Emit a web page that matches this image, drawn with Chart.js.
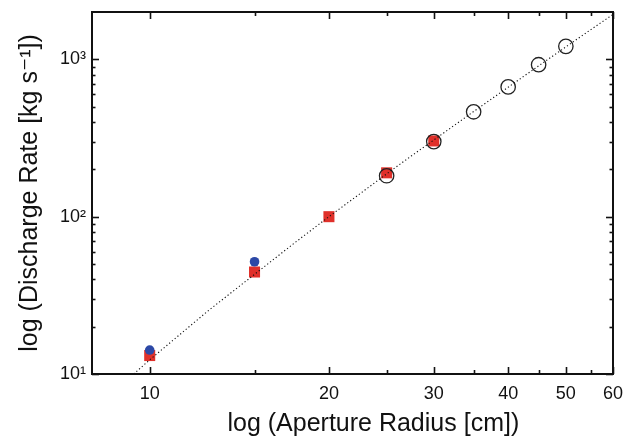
<!DOCTYPE html>
<html><head><meta charset="utf-8">
<script src="https://cdn.jsdelivr.net/npm/chart.js@4/dist/chart.umd.min.js"></script>
<style>html,body{margin:0;padding:0;background:#fff}#wrap{width:627px;height:440px}</style>
</head><body><div id="wrap"><canvas id="c" width="627" height="440"></canvas></div>
<script>
// Data
const radiusRed = [10, 15, 20, 25, 30];
const rateRed = [13.1, 44.5, 100, 190, 303];
const radiusBlue = [10, 15];
const rateBlue = [14.2, 51.7];
const radiusOpen = [25, 30, 35, 40, 45, 50];
const rateOpen = [182, 300, 464, 668, 925, 1210];
const radiusFit = [9.4, 10, 12.5, 15, 17.5, 20, 22.5, 25, 27.5, 30, 35, 40, 45, 50, 55, 60];
const rateFit = [10, 12.3, 25, 43, 68, 100, 139, 187, 243, 307, 466, 665, 909, 1200, 1540, 1930];
// Tick values / labels
const xMajor = [10, 20, 30, 40, 50, 60];
const xMinor = [15, 25, 35, 45, 55];
const yMajor = [10, 100, 1000];
const yMajorLabels = ['10¹', '10²', '10³'];
const yMinor = [20, 30, 40, 50, 60, 70, 80, 90, 200, 300, 400, 500, 600, 700, 800, 900];

const pts = (xs, ys) => xs.map((v, i) => ({x: v, y: ys[i]}));
const FONT = "'Liberation Sans', Arial, 'DejaVu Sans', sans-serif";

const framePlugin = {
  id: 'frame',
  afterDraw(chart) {
    const {ctx, chartArea: a, scales: {x, y}} = chart;
    ctx.save();
    ctx.strokeStyle = '#111';
    ctx.lineCap = 'butt';
    const seg = (x1, y1, x2, y2) => { ctx.beginPath(); ctx.moveTo(x1, y1); ctx.lineTo(x2, y2); ctx.stroke(); };
    ctx.lineWidth = 1.6;
    const xt = (vals, len) => vals.forEach(v => {
      const p = Math.round(x.getPixelForValue(v)) + 0.5;
      seg(p, a.bottom, p, a.bottom - len); seg(p, a.top, p, a.top + len);
    });
    const yt = (vals, len) => vals.forEach(v => {
      const p = Math.round(y.getPixelForValue(v)) + 0.5;
      seg(a.left, p, a.left + len, p); seg(a.right, p, a.right - len, p);
    });
    xt(xMajor, 7); xt(xMinor, 4);
    yt(yMajor, 7); yt(yMinor, 3.5);
    ctx.lineWidth = 2;
    ctx.strokeRect(a.left, a.top, a.right - a.left, a.bottom - a.top);
    ctx.restore();
  }
};

new Chart(document.getElementById('c'), {
  type: 'scatter',
  data: {
    datasets: [
      {label: 'fit', type: 'line', data: pts(radiusFit, rateFit), showLine: true, borderColor: '#111',
       borderWidth: 1.1, borderDash: [1.2, 2.4], pointRadius: 0, fill: false, tension: 0, order: 0, clip: 0},
      {label: 'open', data: pts(radiusOpen, rateOpen), pointStyle: 'circle', pointRadius: 7.2,
       backgroundColor: 'rgba(0,0,0,0)', borderColor: '#222', pointBorderWidth: 1.3, order: 1},
      {label: 'blue', data: pts(radiusBlue, rateBlue), pointStyle: 'circle', pointRadius: 4.8,
       backgroundColor: '#2c48a6', borderColor: '#2c48a6', pointBorderWidth: 0, order: 2},
      {label: 'red', data: pts(radiusRed, rateRed), pointStyle: 'rect', pointRadius: 7.8,
       backgroundColor: '#e0302a', borderColor: '#e0302a', pointBorderWidth: 0, order: 3}
    ]
  },
  options: {
    responsive: false, animation: false, devicePixelRatio: 1,
    layout: {padding: {top: 12, right: 14, left: 0, bottom: 0}},
    plugins: {legend: {display: false}, tooltip: {enabled: false}},
    scales: {
      x: {
        type: 'logarithmic', min: 8, max: 60,
        afterBuildTicks: s => { s.ticks = xMajor.map(v => ({value: v})); },
        afterFit: s => { s.height = 66; s.paddingLeft = 0; s.paddingRight = 0; },
        ticks: {callback: v => String(v), autoSkip: false, maxRotation: 0, padding: 9, color: '#111',
                font: {family: FONT, size: 18}},
        grid: {display: false, drawTicks: false}, border: {display: false},
        title: {display: true, text: '      log (Aperture Radius [cm])', color: '#111',
                font: {family: FONT, size: 25}, padding: {top: 0, bottom: 1}}
      },
      y: {
        type: 'logarithmic', min: 10, max: 2000,
        afterBuildTicks: s => { s.ticks = yMajor.map(v => ({value: v})); },
        afterFit: s => { s.width = 92; s.paddingTop = 0; s.paddingBottom = 0; },
        ticks: {callback: (v, i) => yMajorLabels[i], autoSkip: false, padding: 6, color: '#111',
                font: {family: FONT, size: 18}},
        grid: {display: false, drawTicks: false}, border: {display: false},
        title: {display: true, text: 'log (Discharge Rate [kg s⁻¹])', color: '#111',
                font: {family: FONT, size: 25}, padding: {top: 15, bottom: 0}}
      }
    }
  },
  plugins: [framePlugin]
});
</script></body></html>
